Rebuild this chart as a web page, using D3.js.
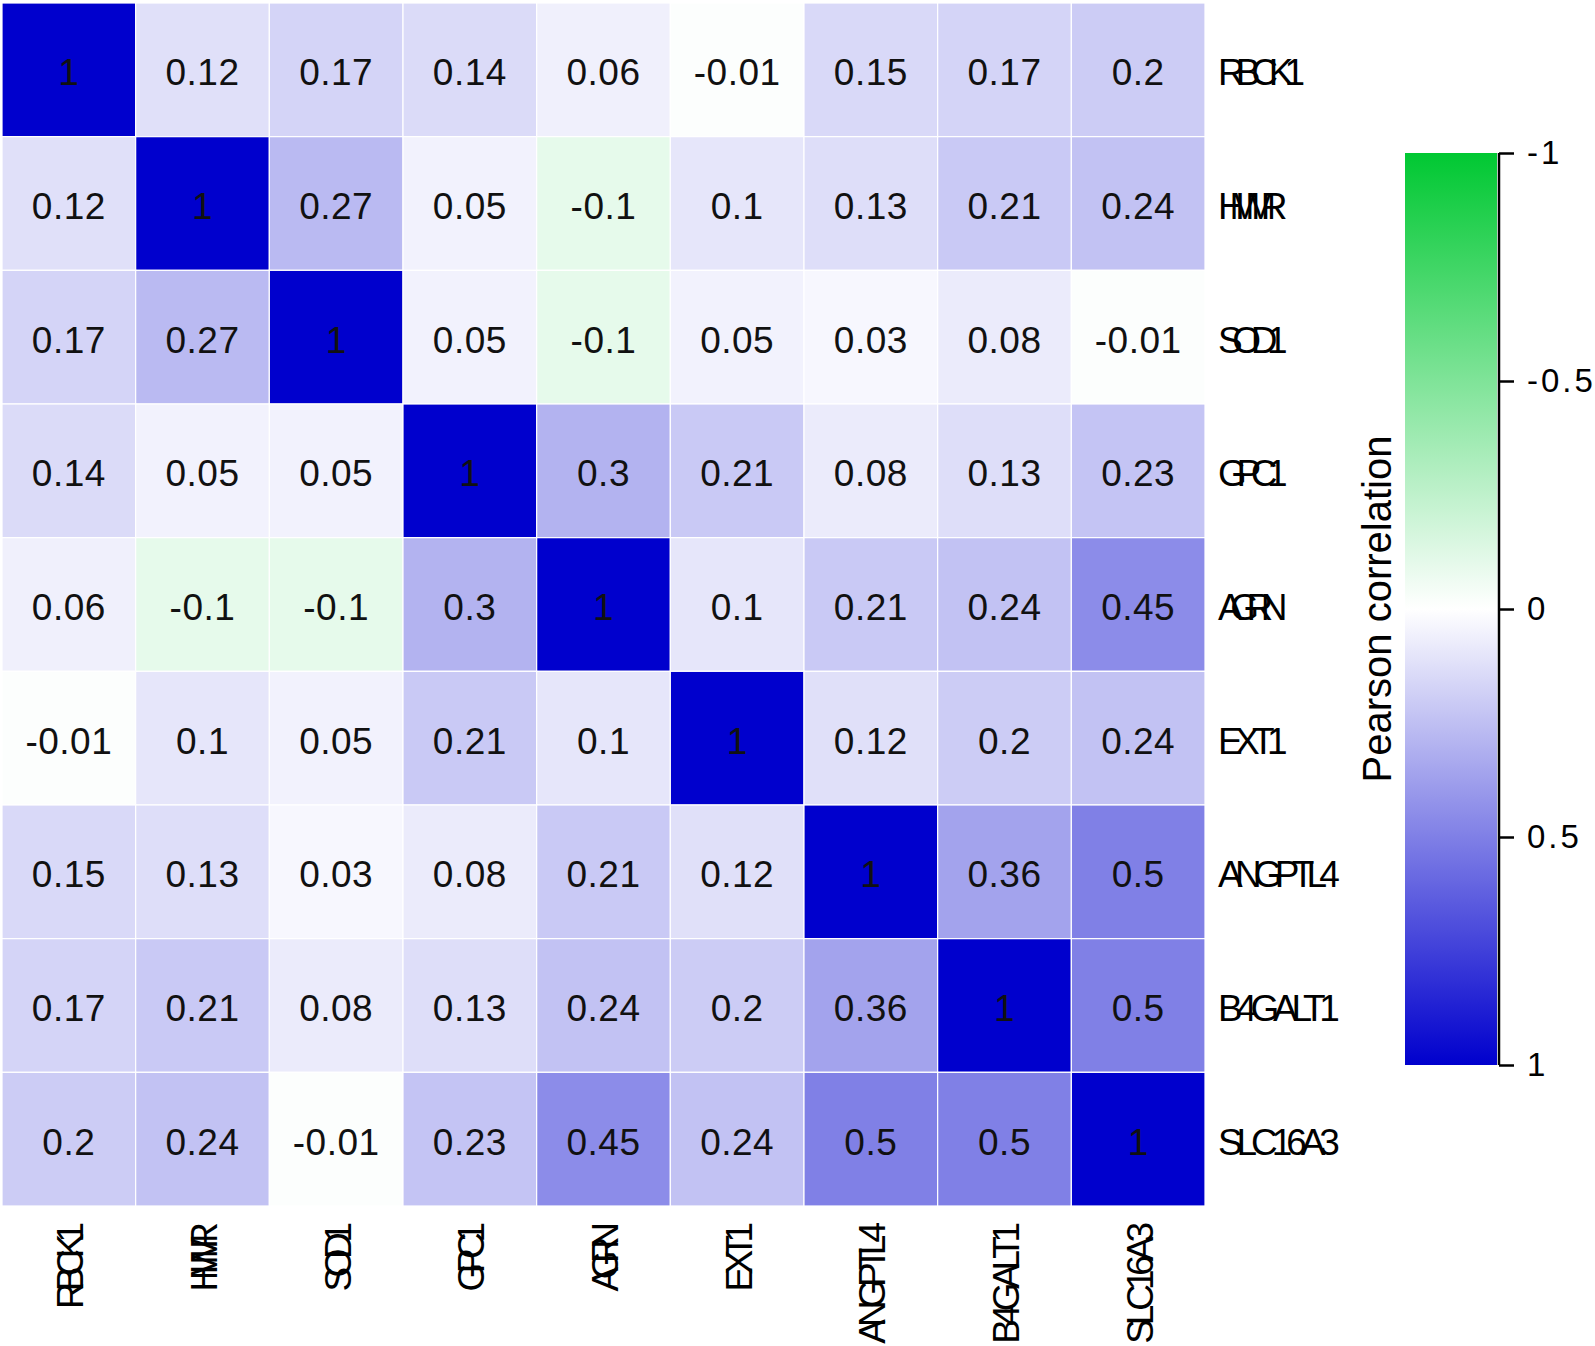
<!DOCTYPE html>
<html>
<head>
<meta charset="utf-8">
<script src="https://cdn.jsdelivr.net/npm/d3@7/dist/d3.min.js"></script>
<style>
  html, body { margin: 0; padding: 0; background: #fff; }
  svg { display: block; font-family: "Liberation Sans", Arial, Helvetica, sans-serif; }
</style>
</head>
<body>
<svg id="chart" width="1595" height="1346"></svg>
<script>
const genes = ["RBCK1", "HMMR", "SOD1", "GPC1", "AGRN", "EXT1", "ANGPTL4", "B4GALT1", "SLC16A3"];
const rowRBCK1   = [1, 0.12, 0.17, 0.14, 0.06, -0.01, 0.15, 0.17, 0.2];
const rowHMMR    = [0.12, 1, 0.27, 0.05, -0.1, 0.1, 0.13, 0.21, 0.24];
const rowSOD1    = [0.17, 0.27, 1, 0.05, -0.1, 0.05, 0.03, 0.08, -0.01];
const rowGPC1    = [0.14, 0.05, 0.05, 1, 0.3, 0.21, 0.08, 0.13, 0.23];
const rowAGRN    = [0.06, -0.1, -0.1, 0.3, 1, 0.1, 0.21, 0.24, 0.45];
const rowEXT1    = [-0.01, 0.1, 0.05, 0.21, 0.1, 1, 0.12, 0.2, 0.24];
const rowANGPTL4 = [0.15, 0.13, 0.03, 0.08, 0.21, 0.12, 1, 0.36, 0.5];
const rowB4GALT1 = [0.17, 0.21, 0.08, 0.13, 0.24, 0.2, 0.36, 1, 0.5];
const rowSLC16A3 = [0.2, 0.24, -0.01, 0.23, 0.45, 0.24, 0.5, 0.5, 1];
const legendTicks = [-1, -0.5, 0, 0.5, 1];
const legendTickLabels = ["-1", "-0.5", "0", "0.5", "1"];
const legendTitle = "Pearson correlation";

const matrix = [rowRBCK1, rowHMMR, rowSOD1, rowGPC1, rowAGRN, rowEXT1, rowANGPTL4, rowB4GALT1, rowSLC16A3];
const cells = [];
matrix.forEach((row, i) => row.forEach((v, j) => cells.push({ r: genes[i], c: genes[j], v })));

const svg = d3.select("#chart");
const hmLeft = 2, hmTop = 3, hmSize = 1203;

const x = d3.scaleBand().domain(genes).range([hmLeft, hmLeft + hmSize]).padding(0);
const y = d3.scaleBand().domain(genes).range([hmTop, hmTop + hmSize]).padding(0);
const color = d3.scaleLinear().domain([-1, 0, 1]).range(["#00c832", "#ffffff", "#0000cd"]);

const g = svg.append("g");
g.selectAll("rect.cell").data(cells).join("rect")
  .attr("class", "cell")
  .attr("x", d => x(d.c))
  .attr("y", d => y(d.r))
  .attr("width", x.bandwidth())
  .attr("height", y.bandwidth())
  .attr("fill", d => color(d.v))
  .attr("stroke", "#fff")
  .attr("stroke-width", 1.2);

g.selectAll("text.val").data(cells).join("text")
  .attr("class", "val")
  .attr("x", d => x(d.c) + x.bandwidth() / 2)
  .attr("y", d => y(d.r) + y.bandwidth() / 2 + 3)
  .attr("text-anchor", "middle")
  .attr("dominant-baseline", "central")
  .attr("font-size", 37)
  .attr("letter-spacing", 0.5)
  .attr("fill", "#111")
  .text(d => String(d.v));

// Row labels (right)
const charAdv = 17.4;
svg.append("g").selectAll("text").data(genes).join("text")
  .attr("x", hmLeft + hmSize + 13)
  .attr("y", d => y(d) + y.bandwidth() / 2 + 3)
  .attr("dominant-baseline", "central")
  .attr("font-size", 37)
  .attr("fill", "#000")
  .attr("textLength", d => d.length * charAdv)
  .attr("lengthAdjust", "spacing")
  .text(d => d);

// Column labels (bottom, rotated)
svg.append("g").selectAll("text").data(genes).join("text")
  .attr("transform", d => `translate(${x(d) + x.bandwidth() / 2 + 2},${hmTop + hmSize + 16}) rotate(-90)`)
  .attr("text-anchor", "end")
  .attr("dominant-baseline", "central")
  .attr("font-size", 37)
  .attr("fill", "#000")
  .attr("textLength", d => d.length * charAdv)
  .attr("lengthAdjust", "spacing")
  .text(d => d);

// Legend colour bar
const barX = 1405, barW = 92, barTop = 153, barBot = 1065;
const ly = d3.scaleLinear().domain([-1, 1]).range([barTop, barBot]);
const defs = svg.append("defs");
const grad = defs.append("linearGradient").attr("id", "lg")
  .attr("x1", 0).attr("y1", 0).attr("x2", 0).attr("y2", 1);
grad.selectAll("stop").data(color.domain()).join("stop")
  .attr("offset", d => (ly(d) - barTop) / (barBot - barTop))
  .attr("stop-color", d => color(d));
svg.append("rect")
  .attr("x", barX).attr("y", barTop)
  .attr("width", barW).attr("height", barBot - barTop)
  .attr("fill", "url(#lg)");

const axis = d3.axisRight(ly).tickValues(legendTicks).tickSize(15).tickPadding(13)
  .tickFormat((d, i) => legendTickLabels[i]);
const ag = svg.append("g").attr("transform", `translate(${barX + barW + 2},0)`).call(axis);
ag.select(".domain").attr("stroke", "#000").attr("stroke-width", 2.5)
  .attr("d", `M0,${barTop}V${barBot}`);
ag.selectAll(".tick line").attr("stroke", "#000").attr("stroke-width", 2.5);
ag.selectAll(".tick text").attr("font-size", 33).attr("fill", "#000")
  .attr("font-family", '"Liberation Sans", Arial, sans-serif')
  .attr("letter-spacing", 3);

svg.append("text")
  .attr("transform", `translate(1391,${(barTop + barBot) / 2}) rotate(-90)`)
  .attr("text-anchor", "middle")
  .attr("font-size", 40)
  .attr("fill", "#000")
  .text(legendTitle);
</script>
</body>
</html>
